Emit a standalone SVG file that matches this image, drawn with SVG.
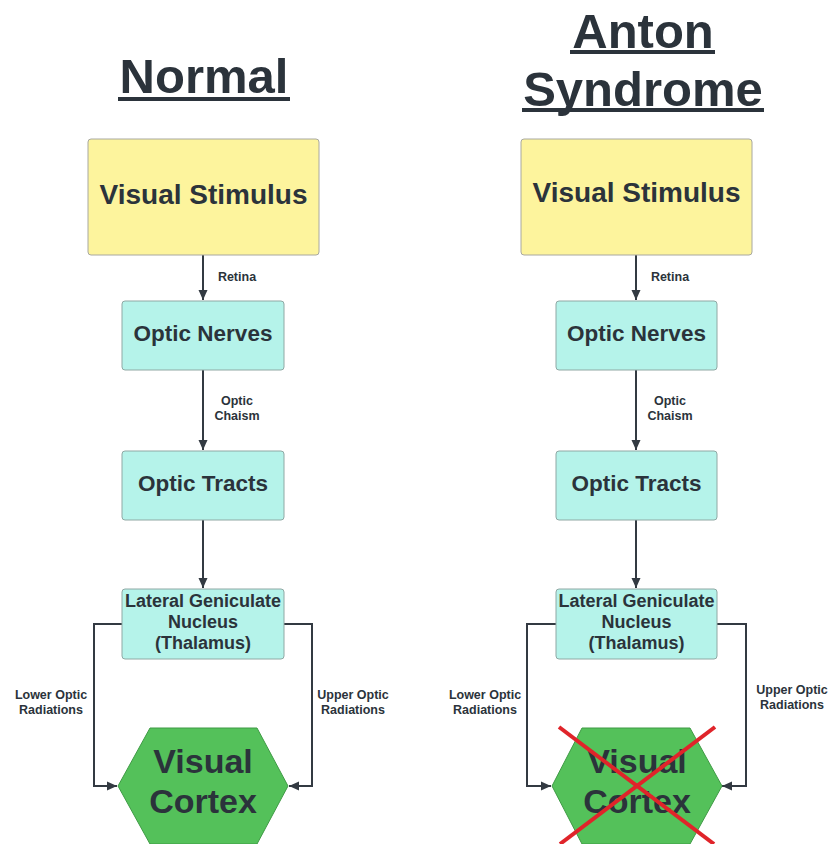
<svg xmlns="http://www.w3.org/2000/svg" width="833" height="844" viewBox="0 0 833 844">
<defs>
<style>
.t{font-family:"Liberation Sans",Arial,sans-serif;font-weight:bold;fill:#2b333b;text-anchor:middle}
.yel{fill:#fdf49d;stroke:#a8a8a0;stroke-width:1}
.cy{fill:#b5f3ea;stroke:#8fa8a4;stroke-width:1}
.hex{fill:#54c15a;stroke:#3f9a45;stroke-width:1}
.c{fill:none;stroke:#333a42;stroke-width:2}
.ul{stroke:#2b333b;stroke-width:4}
.x{stroke:#e0242a;stroke-width:4;stroke-linecap:butt}
</style>
<marker id="ah" viewBox="0 0 10 10" refX="10" refY="5" markerWidth="10" markerHeight="10" markerUnits="userSpaceOnUse" orient="auto"><path d="M0,0.5 L10,5 L0,9.5 Z" fill="#333a42"/></marker>
</defs>
<rect width="833" height="844" fill="#ffffff"/>

<g id="title-normal">
<text class="t" x="204" y="93" font-size="49">Normal</text>
<line class="ul" x1="118" y1="99" x2="290" y2="99"/>
</g>
<g id="title-anton">
<text class="t" x="643" y="48" font-size="49">Anton</text>
<line class="ul" x1="570" y1="52" x2="715" y2="52"/>
<text class="t" x="643" y="106" font-size="49">Syndrome</text>
<line class="ul" x1="522" y1="110" x2="764" y2="110"/>
</g>

<g id="connectors">
<line class="c" x1="203" y1="255" x2="203" y2="300" marker-end="url(#ah)"/>
<line class="c" x1="203" y1="370" x2="203" y2="450" marker-end="url(#ah)"/>
<line class="c" x1="203" y1="520" x2="203" y2="588" marker-end="url(#ah)"/>
<path class="c" d="M122,624 H94 V786 H117" marker-end="url(#ah)"/>
<path class="c" d="M284,624 H312 V786 H289" marker-end="url(#ah)"/>
<line class="c" x1="636" y1="255" x2="636" y2="300" marker-end="url(#ah)"/>
<line class="c" x1="636" y1="370" x2="636" y2="450" marker-end="url(#ah)"/>
<line class="c" x1="636" y1="520" x2="636" y2="588" marker-end="url(#ah)"/>
<path class="c" d="M556,624 H527 V786 H551" marker-end="url(#ah)"/>
<path class="c" d="M717,624 H746 V786 H722" marker-end="url(#ah)"/>
<text class="t" x="237" y="281" font-size="12.5">Retina</text>
<text class="t" x="237" y="405" font-size="12.5">Optic</text>
<text class="t" x="237" y="420" font-size="12.5">Chaism</text>
<text class="t" x="51" y="699" font-size="12.5">Lower Optic</text>
<text class="t" x="51" y="714" font-size="12.5">Radiations</text>
<text class="t" x="353" y="699" font-size="12.5">Upper Optic</text>
<text class="t" x="353" y="714" font-size="12.5">Radiations</text>
<text class="t" x="670" y="281" font-size="12.5">Retina</text>
<text class="t" x="670" y="405" font-size="12.5">Optic</text>
<text class="t" x="670" y="420" font-size="12.5">Chaism</text>
<text class="t" x="485" y="699" font-size="12.5">Lower Optic</text>
<text class="t" x="485" y="714" font-size="12.5">Radiations</text>
<text class="t" x="792" y="694" font-size="12.5">Upper Optic</text>
<text class="t" x="792" y="709" font-size="12.5">Radiations</text>
</g>

<g id="n-stimulus">
<rect class="yel" x="88" y="139" width="231" height="116" rx="3"/>
<text class="t" x="203.5" y="204" font-size="28">Visual Stimulus</text>
</g>
<g id="n-nerves">
<rect class="cy" x="122" y="301" width="162" height="69" rx="3"/>
<text class="t" x="203" y="341" font-size="22.5">Optic Nerves</text>
</g>
<g id="n-tracts">
<rect class="cy" x="122" y="451" width="162" height="69" rx="3"/>
<text class="t" x="203" y="491" font-size="22.5">Optic Tracts</text>
</g>
<g id="n-lgn">
<rect class="cy" x="122" y="589" width="162" height="70" rx="3"/>
<text class="t" x="203" y="607" font-size="18">Lateral Geniculate</text>
<text class="t" x="203" y="628" font-size="18">Nucleus</text>
<text class="t" x="203" y="649" font-size="18">(Thalamus)</text>
</g>
<g id="n-cortex">
<polygon class="hex" points="150,728 257,728 288,786 257,844 150,844 118,786"/>
<text class="t" x="203" y="773" font-size="34">Visual</text>
<text class="t" x="203" y="813" font-size="34">Cortex</text>
</g>

<g id="a-stimulus">
<rect class="yel" x="521" y="139" width="231" height="116" rx="3"/>
<text class="t" x="636.5" y="202" font-size="28">Visual Stimulus</text>
</g>
<g id="a-nerves">
<rect class="cy" x="556" y="301" width="161" height="69" rx="3"/>
<text class="t" x="636.5" y="341" font-size="22.5">Optic Nerves</text>
</g>
<g id="a-tracts">
<rect class="cy" x="556" y="451" width="161" height="69" rx="3"/>
<text class="t" x="636.5" y="491" font-size="22.5">Optic Tracts</text>
</g>
<g id="a-lgn">
<rect class="cy" x="556" y="589" width="161" height="70" rx="3"/>
<text class="t" x="636.5" y="607" font-size="18">Lateral Geniculate</text>
<text class="t" x="636.5" y="628" font-size="18">Nucleus</text>
<text class="t" x="636.5" y="649" font-size="18">(Thalamus)</text>
</g>
<g id="a-cortex">
<polygon class="hex" points="582,728 690,728 722,786 690,844 582,844 552,786"/>
<text class="t" x="637" y="773" font-size="34">Visual</text>
<text class="t" x="637" y="813" font-size="34">Cortex</text>
<line class="x" x1="559" y1="727" x2="714" y2="844"/>
<line class="x" x1="715" y1="727" x2="560" y2="844"/>
</g>
</svg>
